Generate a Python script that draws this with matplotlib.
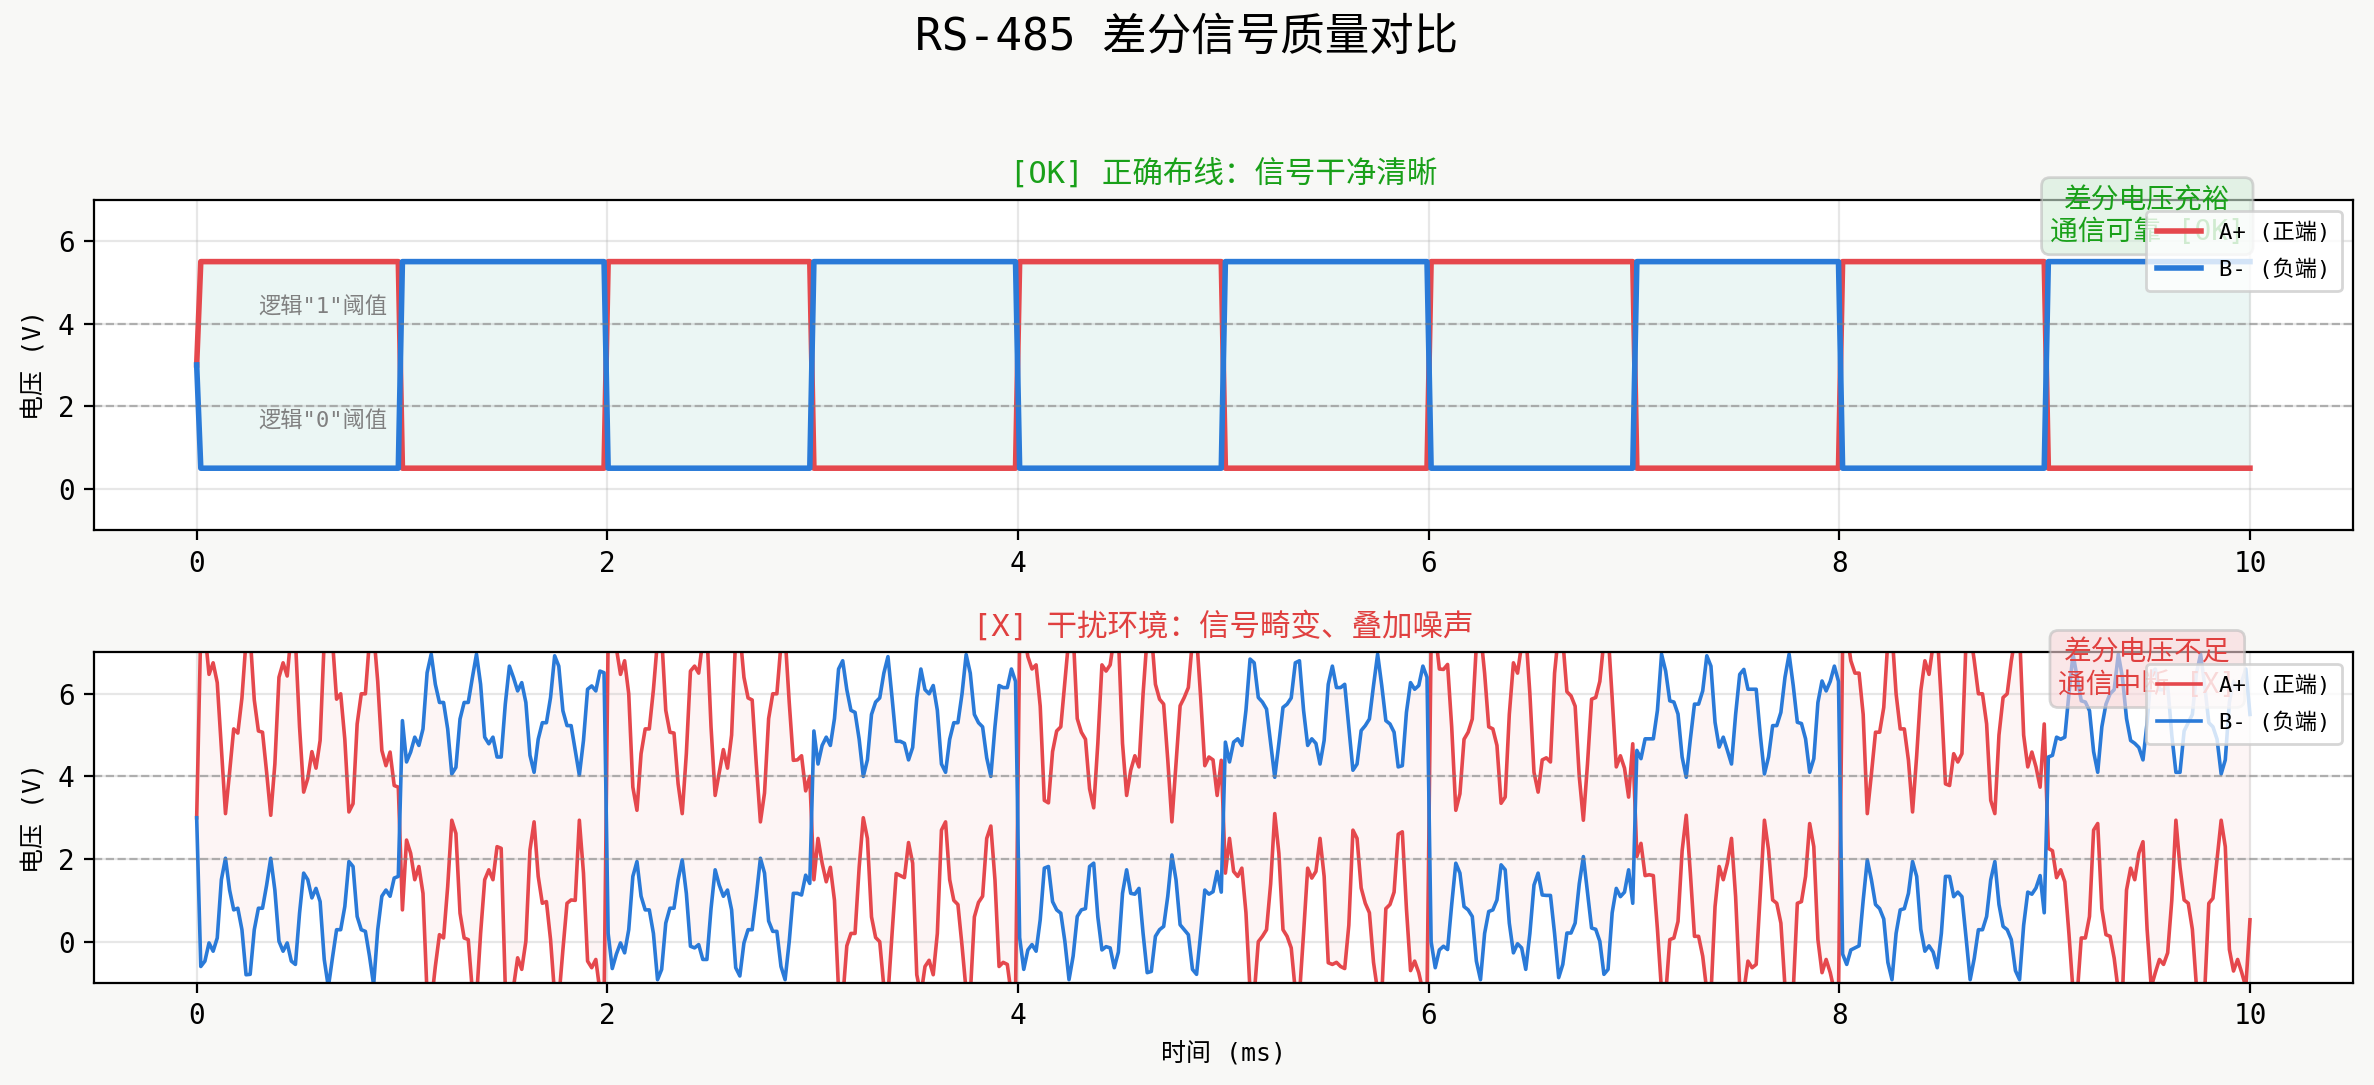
import numpy as np
import matplotlib
matplotlib.use("Agg")
import matplotlib.pyplot as plt

plt.rcParams["font.family"] = ["DejaVu Sans Mono", "Noto Sans CJK SC"]
plt.rcParams["axes.unicode_minus"] = False

# ---- data ----
n_samples = 500
t_end = 10.0
bits = [1, 0, 1, 0, 1, 0, 1, 0, 1, 0]          # 1 -> A+ high
level_hi, level_lo, idle_level = 5.5, 0.5, 3.0
thresholds = [4.0, 2.0]
xticks = [0, 2, 4, 6, 8, 10]
yticks = [0, 2, 4, 6]

# 干扰环境下读取的采样值 (每个比特 50 点)
noisy_a = [
    [3.0, 7.6, 7.5, 6.47, 6.75, 6.27, 4.7, 3.1, 4.1, 5.15,
     5.05, 5.9, 7.3, 7.4, 5.85, 5.1, 5.07, 4.1, 3.06, 4.3,
     6.4, 6.75, 6.43, 7.5, 7.3, 5.2, 3.62, 3.95, 4.6, 4.2,
     4.87, 7.3, 7.8, 7.3, 5.87, 6.0, 4.9, 3.14, 3.34, 5.27,
     6.0, 6.0, 7.3, 7.5, 6.3, 4.63, 4.26, 4.59, 3.78, 3.74],
    [0.77, 2.46, 2.14, 1.5, 1.82, 1.17, -1.3, -1.5, -0.6, 0.17,
     0.09, 1.33, 2.94, 2.62, 0.69, 0.09, 0.05, -1.2, -1.4, 0.2,
     1.5, 1.74, 1.5, 2.3, 2.26, -1.1, -1.3, -1.1, -0.39, -0.67,
     0.01, 2.22, 2.9, 1.58, 0.93, 0.97, 0.05, -1.3, -1.4, -0.2,
     0.93, 1.01, 1.0, 2.94, 1.66, -0.47, -0.63, -0.43, -1.2, -1.5],
    [7.4, 7.6, 7.1, 6.47, 6.8, 6.0, 3.74, 3.18, 4.55, 5.15,
     5.15, 6.1, 7.3, 7.4, 5.6, 5.07, 5.05, 3.82, 3.1, 4.55,
     6.55, 6.67, 6.5, 7.3, 7.5, 5.2, 3.54, 4.1, 4.65, 4.2,
     5.0, 7.4, 7.5, 6.4, 5.9, 5.85, 4.3, 2.9, 3.6, 5.4,
     6.0, 6.0, 7.2, 7.4, 5.8, 4.39, 4.4, 4.5, 3.65, 4.0],
    [1.5, 2.5, 1.9, 1.45, 1.8, 1.0, -1.2, -1.4, -0.1, 0.2,
     0.2, 1.8, 3.0, 2.5, 0.6, 0.1, 0.0, -1.1, -1.3, 0.2,
     1.65, 1.6, 1.55, 2.4, 1.9, -0.8, -1.3, -0.6, -0.45, -0.8,
     0.2, 2.7, 2.9, 1.5, 1.0, 0.9, -0.1, -1.2, -1.3, 0.6,
     0.95, 1.1, 2.5, 2.8, 1.5, -0.6, -0.5, -0.55, -1.3, -1.3],
    [7.3, 7.5, 6.9, 6.6, 6.7, 5.7, 3.42, 3.36, 4.6, 5.1,
     5.2, 6.3, 7.4, 7.5, 5.4, 5.07, 4.9, 3.7, 3.24, 4.8,
     6.7, 6.55, 6.7, 7.4, 7.4, 4.8, 3.54, 4.15, 4.5, 4.23,
     6.0, 7.4, 7.5, 6.23, 5.87, 5.75, 4.4, 2.9, 4.3, 5.71,
     5.91, 6.15, 7.3, 7.4, 5.9, 4.26, 4.47, 4.4, 3.54, 4.39],
    [1.66, 2.5, 1.7, 1.58, 1.78, 0.7, -1.2, -1.3, 0.0, 0.13,
     0.29, 1.4, 3.1, 2.14, 0.29, 0.13, -0.15, -1.2, -1.3, 0.2,
     1.78, 1.54, 1.7, 2.5, 1.58, -0.51, -0.55, -0.5, -0.6, -0.65,
     0.4, 2.7, 2.5, 1.3, 0.93, 0.7, -0.5, -1.2, -1.3, 0.8,
     0.9, 1.2, 2.6, 2.66, 0.8, -0.7, -0.47, -0.75, -1.2, -1.3],
    [7.3, 7.5, 6.6, 6.59, 6.71, 5.2, 3.18, 3.58, 4.9, 5.07,
     5.39, 7.2, 7.5, 6.5, 5.2, 5.15, 4.75, 3.35, 3.5, 5.5,
     6.75, 6.5, 7.2, 7.5, 6.0, 4.1, 3.62, 4.4, 4.45, 4.35,
     6.5, 7.5, 7.3, 6.05, 5.95, 5.7, 4.0, 2.94, 4.3, 5.87,
     5.91, 6.3, 7.3, 7.5, 5.9, 4.23, 4.5, 4.2, 3.5, 4.79],
    [2.06, 2.38, 1.6, 1.62, 1.6, 0.3, -1.2, -1.3, 0.05, 0.09,
     0.49, 2.2, 3.06, 1.66, 0.13, 0.13, -0.35, -1.2, -1.3, 0.85,
     1.82, 1.5, 1.9, 2.5, 1.09, -1.1, -1.2, -0.47, -0.63, -0.55,
     1.17, 2.94, 2.22, 1.01, 0.93, 0.45, -1.1, -1.3, -1.2, 0.93,
     0.97, 1.58, 2.86, 2.3, 0.05, -0.75, -0.43, -0.75, -1.2, -1.3],
    [7.2, 7.5, 6.8, 6.5, 6.5, 5.5, 3.1, 4.06, 5.07, 5.07,
     5.67, 7.3, 7.5, 6.0, 5.15, 5.15, 4.39, 3.14, 4.5, 6.07,
     6.8, 6.47, 7.2, 7.5, 5.8, 3.82, 3.78, 4.55, 4.35, 4.55,
     7.3, 7.5, 6.8, 6.0, 6.0, 5.27, 3.42, 3.1, 5.0, 5.91,
     6.0, 6.8, 7.4, 7.5, 5.0, 4.23, 4.59, 4.23, 3.74, 5.27],
    [2.26, 2.2, 1.55, 1.74, 1.45, 0.2, -1.2, -1.3, 0.09, 0.09,
     0.61, 2.7, 2.86, 0.8, 0.17, 0.13, -0.4, -1.2, -1.3, 1.25,
     1.78, 1.5, 2.14, 2.42, 0.3, -1.1, -0.75, -0.43, -0.55, -0.27,
     1.0, 2.94, 1.8, 1.01, 0.93, 0.3, -1.1, -1.3, -1.2, 0.93,
     1.05, 2.0, 2.94, 2.3, -0.19, -0.71, -0.43, -0.75, -1.1, 0.53],
]
noisy_b = [
    [3.0, -0.6, -0.47, -0.03, -0.23, 0.09, 1.5, 2.02, 1.25, 0.77,
     0.81, 0.29, -0.8, -0.79, 0.29, 0.81, 0.81, 1.37, 2.02, 1.25,
     0.01, -0.23, -0.03, -0.47, -0.55, 0.69, 1.66, 1.5, 1.06, 1.29,
     0.97, -0.43, -1.1, -0.39, 0.29, 0.29, 0.85, 1.94, 1.82, 0.61,
     0.29, 0.25, -0.35, -1.05, 0.29, 1.1, 1.25, 1.1, 1.54, 1.58],
    [5.35, 4.35, 4.59, 4.95, 4.75, 5.15, 6.51, 6.96, 6.23, 5.79,
     5.79, 5.15, 4.06, 4.22, 5.39, 5.79, 5.79, 6.39, 6.96, 6.23,
     4.95, 4.79, 4.95, 4.47, 4.47, 5.75, 6.67, 6.39, 6.07, 6.27,
     5.79, 4.51, 4.1, 4.9, 5.3, 5.3, 5.91, 6.92, 6.67, 5.59,
     5.23, 5.23, 4.63, 4.03, 4.87, 6.11, 6.19, 6.07, 6.55, 6.51],
    [0.2, -0.65, -0.3, -0.03, -0.27, 0.29, 1.58, 1.94, 1.1, 0.77,
     0.77, 0.2, -0.92, -0.67, 0.45, 0.81, 0.81, 1.5, 1.98, 1.17,
     -0.11, -0.15, -0.07, -0.43, -0.43, 0.8, 1.74, 1.37, 1.1, 1.25,
     0.77, -0.63, -0.83, -0.03, 0.29, 0.29, 1.1, 2.02, 1.66, 0.5,
     0.25, 0.25, -0.6, -0.92, 0.0, 1.17, 1.17, 1.13, 1.61, 1.41],
    [5.1, 4.3, 4.75, 4.95, 4.75, 5.4, 6.6, 6.8, 6.1, 5.6,
     5.55, 4.9, 4.0, 4.4, 5.5, 5.8, 5.9, 6.5, 6.9, 5.9,
     4.85, 4.85, 4.8, 4.4, 4.7, 5.9, 6.6, 6.1, 6.0, 6.2,
     5.6, 4.3, 4.1, 4.9, 5.3, 5.3, 6.0, 6.95, 6.5, 5.5,
     5.3, 5.2, 4.45, 4.0, 5.2, 6.2, 6.15, 6.15, 6.6, 6.3],
    [0.1, -0.67, -0.2, -0.07, -0.23, 0.53, 1.78, 1.82, 0.97, 0.77,
     0.69, 0.0, -0.92, -0.35, 0.61, 0.77, 0.8, 1.82, 1.9, 0.6,
     -0.2, -0.12, -0.15, -0.63, -0.25, 1.17, 1.74, 1.17, 1.15, 1.29,
     0.2, -0.75, -0.72, 0.13, 0.29, 0.37, 1.1, 2.1, 1.5, 0.41,
     0.29, 0.17, -0.67, -0.79, 0.2, 1.25, 1.15, 1.21, 1.7, 1.2],
    [4.83, 4.35, 4.83, 4.91, 4.75, 5.6, 6.84, 6.75, 5.91, 5.8,
     5.63, 4.8, 3.98, 4.8, 5.67, 5.75, 5.9, 6.75, 6.8, 5.6,
     4.75, 4.91, 4.8, 4.3, 4.87, 6.23, 6.67, 6.15, 6.15, 6.23,
     5.2, 4.15, 4.3, 5.11, 5.23, 5.39, 6.2, 6.96, 6.2, 5.35,
     5.27, 5.07, 4.23, 4.26, 5.55, 6.27, 6.11, 6.2, 6.67, 6.4],
    [0.0, -0.63, -0.2, -0.11, -0.19, 0.9, 1.9, 1.66, 0.85, 0.77,
     0.61, -0.47, -0.92, 0.2, 0.73, 0.77, 1.01, 1.86, 1.74, 0.45,
     -0.27, -0.05, -0.15, -0.67, 0.2, 1.37, 1.66, 1.13, 1.12, 1.12,
     0.2, -0.87, -0.55, 0.21, 0.21, 0.45, 1.4, 2.06, 1.2, 0.33,
     0.3, 0.01, -0.79, -0.67, 0.7, 1.29, 1.09, 1.2, 1.74, 0.93],
    [4.63, 4.43, 4.91, 4.91, 4.91, 5.6, 6.96, 6.55, 5.83, 5.8,
     5.51, 4.47, 3.98, 4.9, 5.75, 5.75, 6.07, 6.92, 6.67, 5.31,
     4.71, 4.95, 4.63, 4.3, 5.5, 6.47, 6.59, 6.11, 6.11, 6.11,
     5.0, 4.06, 4.47, 5.23, 5.23, 5.55, 6.4, 6.96, 6.2, 5.31,
     5.28, 4.91, 4.1, 4.43, 5.79, 6.31, 6.07, 6.3, 6.67, 6.3],
    [-0.3, -0.55, -0.2, -0.15, -0.1, 1.0, 1.98, 1.5, 0.9, 0.8,
     0.55, -0.5, -0.92, 0.2, 0.77, 0.8, 1.17, 1.94, 1.58, 0.3,
     -0.23, -0.1, -0.25, -0.63, 0.2, 1.58, 1.58, 1.09, 1.2, 1.09,
     0.1, -0.92, -0.4, 0.29, 0.29, 0.61, 1.5, 1.94, 0.9, 0.37,
     0.29, 0.05, -0.7, -0.92, 0.4, 1.2, 1.15, 1.3, 1.6, 0.7],
    [4.47, 4.51, 4.95, 4.9, 4.95, 6.0, 6.96, 6.4, 5.83, 5.8,
     5.59, 4.6, 4.1, 5.2, 5.75, 6.0, 6.1, 6.96, 6.4, 5.4,
     4.87, 4.8, 4.7, 4.4, 5.3, 6.5, 6.6, 6.1, 6.1, 6.2,
     5.0, 4.1, 4.1, 5.1, 5.3, 5.5, 6.5, 6.96, 6.2, 5.3,
     5.2, 4.9, 4.06, 4.4, 5.8, 6.3, 6.1, 6.3, 6.6, 5.5],
]

# ---- build series ----
t = np.linspace(0, t_end, n_samples)
bit_idx = np.arange(n_samples) // 50
bit_arr = np.array(bits)[bit_idx]
clean_a = np.where(bit_arr == 1, level_hi, level_lo)
clean_b = np.where(bit_arr == 1, level_lo, level_hi)
clean_a[0] = clean_b[0] = idle_level
dirty_a = np.concatenate(noisy_a)
dirty_b = np.concatenate(noisy_b)

RED, BLUE = "#E5484D", "#2A7AD8"
GREEN_TXT, RED_TXT = "#19A019", "#E0403F"

fig, axes = plt.subplots(2, 1, figsize=(2374 / 200, 1085 / 200), dpi=200)
fig.patch.set_facecolor("#F8F8F6")
fig.subplots_adjust(left=0.0396, right=0.991, top=0.816, bottom=0.094, hspace=0.37)
fig.suptitle("RS-485 差分信号质量对比", fontsize=16, y=0.985)

panels = [
    (axes[0], clean_a, clean_b, 2.0, "#2CA58D", 0.09,
     "[OK] 正确布线：信号干净清晰", GREEN_TXT,
     "差分电压充裕\n通信可靠 [OK]", "#D4EDDA"),
    (axes[1], dirty_a, dirty_b, 1.3, "#E5484D", 0.05,
     "[X] 干扰环境：信号畸变、叠加噪声", RED_TXT,
     "差分电压不足\n通信中断 [X]", "#F8D7DA"),
]

for ax, a, b, lw, fill_c, fill_alpha, title, tcol, note, note_fc in panels:
    ax.set_facecolor("white")
    ax.fill_between(t, a, b, color=fill_c, alpha=fill_alpha, lw=0)
    ax.plot(t, a, color=RED, lw=lw, label="A+ (正端)")
    ax.plot(t, b, color=BLUE, lw=lw, label="B- (负端)")
    for th in thresholds:
        ax.axhline(th, color="gray", ls="--", lw=0.8, alpha=0.55)
    ax.set_xlim(-0.5, 10.5)
    ax.set_ylim(-1, 7)
    ax.set_xticks(xticks)
    ax.set_yticks(yticks)
    ax.tick_params(labelsize=10)
    ax.grid(alpha=0.3)
    ax.set_ylabel("电压 (V)", fontsize=9)
    ax.set_title(title, color=tcol, fontsize=11)
    # 状态说明框 (图例会压在它上面, 与原图一致)
    ax.text(9.5, 6.6, note, ha="center", va="center", fontsize=10,
            color=tcol, multialignment="center",
            bbox=dict(boxstyle="round,pad=0.3", fc=note_fc, ec="#BBBBBB", alpha=0.6))
    ax.legend(loc="upper right", fontsize=8, framealpha=0.8, labelspacing=0.7,
              borderpad=0.5)

axes[0].text(0.3, 4.15, '逻辑"1"阈值', fontsize=8, color="gray", va="bottom")
axes[0].text(0.3, 1.9, '逻辑"0"阈值', fontsize=8, color="gray", va="top")
axes[1].set_xlabel("时间 (ms)", fontsize=9)

fig.savefig("out.png", dpi=200, facecolor=fig.get_facecolor())
